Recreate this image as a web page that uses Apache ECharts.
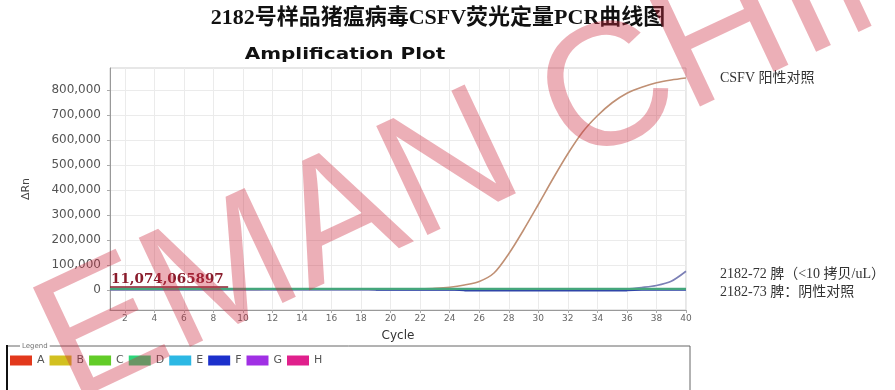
<!DOCTYPE html>
<html>
<head>
<meta charset="utf-8">
<script src="https://cdn.jsdelivr.net/npm/echarts@6/dist/echarts.min.js"></script>
<style>
  html, body { margin: 0; padding: 0; background: #fff; }
  #chart { width: 895px; height: 390px; }
</style>
</head>
<body>
<div id="chart"></div>
<script>
// Cycle numbers (x) and tick values
const cycles = [1,2,3,4,5,6,7,8,9,10,11,12,13,14,15,16,17,18,19,20,21,22,23,24,25,26,27,28,29,30,31,32,33,34,35,36,37,38,39,40];
const xTicks = [2,4,6,8,10,12,14,16,18,20,22,24,26,28,30,32,34,36,38,40];
const yTicks = [0,100000,200000,300000,400000,500000,600000,700000,800000];

// ΔRn per cycle
const positiveCtrl = [2500,2400,2500,2600,2500,2600,2500,2600,2700,2600,2700,2800,2700,2800,2900,2900,3000,3100,3200,3400,3800,4500,6500,11000,20000,34000,68000,145000,240000,342000,446000,545000,632000,697000,749000,787000,811000,829000,840000,848000];
const lowCopySample = [1500,1500,1400,1500,1500,1400,1500,1500,1400,1500,1500,1400,1500,1500,1400,1500,1500,1400,1500,1500,1400,1500,1500,1400,1500,1500,1600,1600,1700,1700,1800,1900,2000,2300,2800,4000,10000,18000,35000,75000];
const negativeCtrl = [3500,3500,3500,3500,3500,3500,3500,3500,3500,3500,3500,3500,3500,3500,3500,3500,3500,3500,1500,1500,1500,1500,1500,1500,-1500,-1500,-1500,-1500,-1500,-1500,-1500,-1500,-1500,-1500,-1500,-1500,1000,1000,1000,1000];
const baselineWell = [4200,4300,4200,4300,4200,4300,4200,4300,4200,4300,4200,4300,4200,4300,4200,4300,4200,4300,4200,4300,4200,4300,4200,4300,4200,4300,4200,4300,4200,4300,4200,4300,4200,4300,4200,4300,4200,4300,4200,4300];

const THRESHOLD = 11074.065897;
const THRESHOLD_LABEL = '11,074,065897';

const seriesLabels = ['CSFV 阳性对照', '2182-72 脾（<10 拷贝/uL）', '2182-73 脾：阴性对照'];

// Well legend
const legendNames = ['A','B','C','D','E','F','G','H'];
const legendColors = ['#e2381c','#d2c020','#62cc28','#2cd67a','#2cb8e4','#1c30cc','#a030e4','#e0208c'];

function pair(xs, ys) { return xs.map((x, i) => [x, ys[i]]); }

const chart = echarts.init(document.getElementById('chart'), null, { renderer: 'canvas' });

const serifCJK = '"Liberation Serif", "Noto Sans CJK SC", serif';

const endLabelStyle = {
  show: true,
  distance: 34,
  color: '#333',
  fontSize: 14,
  fontFamily: serifCJK
};

// Empty bar series carry the well colours for the legend swatches
const legendSeries = legendNames.map((n, i) => ({
  name: n, type: 'bar', data: [], color: legendColors[i], silent: true
}));

chart.setOption({
  animation: false,
  backgroundColor: '#fff',
  grid: { left: 110, right: 209, top: 68, bottom: 80, show: true, borderColor: '#cfcfcf', borderWidth: 1 },
  legend: {
    left: 10, top: 355, padding: 0,
    icon: 'rect', itemWidth: 22, itemHeight: 10, itemGap: 5,
    selectedMode: false,
    data: legendNames,
    textStyle: { fontSize: 11, color: '#555', width: 21, fontFamily: 'DejaVu Sans' }
  },
  xAxis: {
    type: 'value', min: 1, max: 40,
    name: 'Cycle', nameLocation: 'middle', nameGap: 20,
    nameTextStyle: { fontSize: 12, color: '#333', fontFamily: 'DejaVu Sans' },
    axisLine: { show: true, onZero: false, lineStyle: { color: '#999' } },
    axisTick: { show: true, length: 3, customValues: xTicks, lineStyle: { color: '#aaa' } },
    axisLabel: { customValues: xTicks, fontSize: 9, color: '#666', margin: 4, fontFamily: 'DejaVu Sans' },
    splitLine: { show: true, lineStyle: { color: '#ebebeb' } }
  },
  yAxis: {
    type: 'value', min: -80000, max: 888000,
    name: 'ΔRn', nameLocation: 'middle', nameGap: 78, nameRotate: 90,
    nameTextStyle: { fontSize: 11, color: '#444', fontFamily: 'DejaVu Sans' },
    axisLine: { show: true, onZero: false, lineStyle: { color: '#999' } },
    axisTick: { show: true, length: 3, customValues: yTicks, lineStyle: { color: '#aaa' } },
    axisLabel: {
      customValues: yTicks, fontSize: 12, color: '#555', margin: 9, fontFamily: 'DejaVu Sans',
      formatter: v => v.toLocaleString('en-US')
    },
    splitLine: { show: true, lineStyle: { color: '#ebebeb' } }
  },
  series: [
    ...legendSeries,
    {
      name: 'positive', type: 'line', data: pair(cycles, positiveCtrl),
      smooth: 0.3, showSymbol: false, symbol: 'none',
      lineStyle: { color: '#c09074', width: 1.6 },
      endLabel: Object.assign({}, endLabelStyle, { formatter: seriesLabels[0] }),
      z: 3
    },
    {
      name: 'lowcopy', type: 'line', data: pair(cycles, lowCopySample),
      smooth: 0.3, showSymbol: false, symbol: 'none',
      lineStyle: { color: '#7c80b6', width: 1.6 },
      endLabel: Object.assign({}, endLabelStyle, { formatter: seriesLabels[1], offset: [0, 3] }),
      z: 3
    },
    {
      name: 'negative', type: 'line', data: pair(cycles, negativeCtrl),
      showSymbol: false, symbol: 'none',
      lineStyle: { color: '#2f45a8', width: 2 },
      endLabel: Object.assign({}, endLabelStyle, { formatter: seriesLabels[2], offset: [0, 3] }),
      z: 3
    },
    {
      name: 'baseline', type: 'line', data: pair(cycles, baselineWell),
      showSymbol: false, symbol: 'none',
      lineStyle: { color: '#45a67c', width: 2.2 },
      z: 4,
      markLine: {
        silent: true, symbol: 'none',
        lineStyle: { color: '#8a1c2c', width: 1.5, type: 'solid' },
        label: {
          show: true, position: 'insideStartTop', distance: 1,
          formatter: THRESHOLD_LABEL,
          color: '#8a1c2c', fontSize: 13.5, fontWeight: 'bold',
          fontFamily: '"DejaVu Serif", serif'
        },
        data: [[{ coord: [1, THRESHOLD] }, { coord: [9, THRESHOLD] }]]
      }
    }
  ],
  graphic: [
    {
      type: 'text', x: 438, y: 18,
      style: {
        text: '2182号样品猪瘟病毒CSFV荧光定量PCR曲线图',
        align: 'center', verticalAlign: 'middle',
        font: 'bold 22px "Liberation Serif", "Noto Sans CJK SC", serif',
        fill: '#111'
      }
    },
    {
      type: 'text', x: 345, y: 55, scaleX: 1.25,
      style: {
        text: 'Amplification Plot',
        align: 'center', verticalAlign: 'middle',
        font: 'bold 16px "DejaVu Sans", sans-serif',
        fill: '#111'
      }
    },
    {
      type: 'rect', shape: { x: 7, y: 346, width: 683, height: 80 },
      style: { fill: 'none', stroke: '#666', lineWidth: 1 }, z: 1
    },
    {
      type: 'line', shape: { x1: 7, y1: 345, x2: 7, y2: 392 },
      style: { stroke: '#111', lineWidth: 2 }, z: 2
    },
    {
      type: 'text', x: 20, y: 346,
      style: {
        text: 'Legend', verticalAlign: 'middle',
        font: '7px "DejaVu Sans", sans-serif', fill: '#777',
        backgroundColor: '#fff', padding: [0, 2]
      }, z: 3
    },
    {
      type: 'text', x: 88, y: 438, rotation: 0.44, silent: true,
      style: {
        text: 'EMAN CHINA', verticalAlign: 'bottom', align: 'left',
        font: '175px "Liberation Sans", sans-serif',
        fill: 'rgba(205,45,65,0.38)'
      }, z: 100
    }
  ]
});
</script>
</body>
</html>
